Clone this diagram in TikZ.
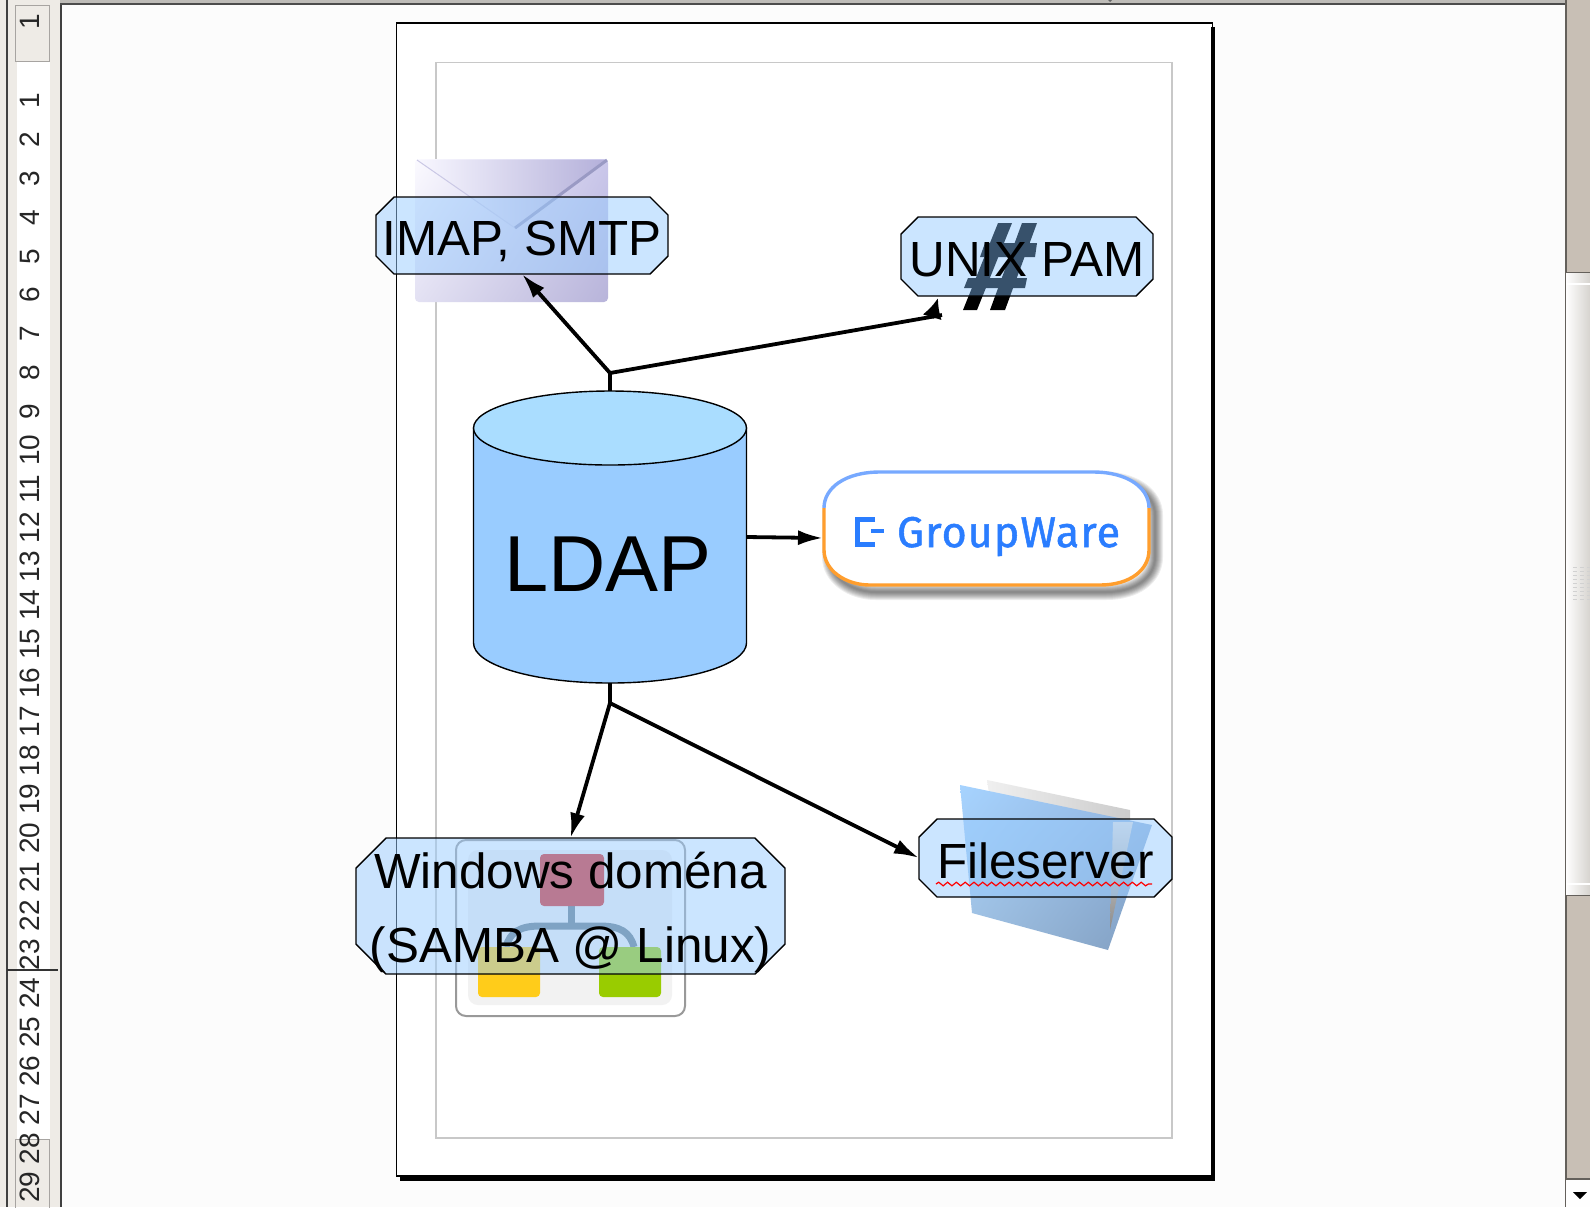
\documentclass[tikz,border=0pt]{standalone}
\usepackage{fontspec}
\setmainfont{Liberation Sans}
\newfontfamily\gwfont[FakeBold=1.2,LetterSpace=2.5]{Fira Sans}
\usetikzlibrary{arrows.meta,decorations.pathmorphing,calc,shadings}
\definecolor{panelgray}{HTML}{EEEBE6}
\definecolor{troughgray}{HTML}{C8BFB5}
\definecolor{boxblue}{HTML}{99CCFF}
\definecolor{boxbluedeep}{HTML}{85C2FF}
\definecolor{toplight}{HTML}{AADDFF}
\definecolor{gwblue}{HTML}{2A7DFF}
\definecolor{gwtop}{HTML}{77A9FF}
\definecolor{gworange}{HTML}{FF9E2E}
\definecolor{marginline}{HTML}{C8C8C8}
\definecolor{envul}{HTML}{FBFAFF}
\definecolor{envur}{HTML}{C9C6EA}
\definecolor{envlr}{HTML}{B8B4DA}
\definecolor{envll}{HTML}{E3E1F3}
\definecolor{flapl}{HTML}{F8F7FF}
\definecolor{flapr}{HTML}{B4B0DA}
\definecolor{flapedge}{HTML}{9A9AC4}
\definecolor{folul}{HTML}{A6D3FF}
\definecolor{folur}{HTML}{94B8E4}
\definecolor{follr}{HTML}{7F9DC0}
\definecolor{folll}{HTML}{A0C0E0}
\definecolor{netpink}{HTML}{D92827}
\definecolor{netyellow}{HTML}{FFCC1A}
\definecolor{netgreen}{HTML}{99CC00}
\definecolor{netline}{HTML}{667A8A}
\tikzset{
  x=0.5pt,y=-0.5pt,
  boxshape/.style={draw=black,line width=.7pt,fill=boxblue,fill opacity=.5,draw opacity=1},
  boxshapedeep/.style={draw=black,line width=.7pt,fill=boxbluedeep,fill opacity=.42,draw opacity=1},
  labeltext/.style={inner sep=0pt,align=center,font=\fontsize{24.7}{37}\selectfont},
  link/.style={draw=black,line width=1.9pt,line join=round},
  headed/.style={link,-{Latex[length=12.5pt,width=7.5pt]}},
  rulernum/.style={rotate=90,font=\fontsize{14}{14}\selectfont,text=black!85,inner sep=0pt},
  ghost/.style={inner sep=0pt,outer sep=0pt,draw=none,fill=none}
}
% name, cx, cy, width(pt), height(pt), chamfer(px), box style, last text baseline y, text
\newcommand{\labelbox}[9]{%
  \node[ghost,minimum width=#4pt,minimum height=#5pt] (#1) at (#2,#3) {};
  \path[#7] ($(#1.north west)+(#6,0)$) -- ($(#1.north east)+(-#6,0)$) -- ($(#1.north east)+(0,#6)$)
    -- ($(#1.south east)+(0,-#6)$) -- ($(#1.south east)+(-#6,0)$) -- ($(#1.south west)+(#6,0)$)
    -- ($(#1.south west)+(0,-#6)$) -- ($(#1.north west)+(0,#6)$) -- cycle;
  \node[labeltext,anchor=base] (#1text) at (#2,#8) {#9};
}
\newcommand{\gwshape}{(824,508) .. controls (824,488) and (845,472) .. (880,472) -- (1093,472) .. controls (1128,472) and (1149,488) .. (1149,508) -- (1149,550) .. controls (1149,570) and (1130,585) .. (1100,585) -- (870,585) .. controls (845,585) and (824,570) .. (824,550) -- cycle}
\begin{document}
\begin{tikzpicture}
\clip (0,0) rectangle (1590,1207);
\fill[white!99!black] (0,0) rectangle (1590,1207);
% --- window chrome: left ruler
\fill[panelgray] (0,0) rectangle (60,1207);
\fill[white] (17,62) rectangle (50,1139);
\draw[panelgray!70!black,line width=.5pt,fill=panelgray] (15,5) rectangle (49,61);
\draw[panelgray!70!black,line width=.5pt] (15,1139) rectangle (49,1210);
\draw[black!75,line width=1pt] (7,0) -- (7,1207);
\draw[black!75,line width=1pt] (60.5,3) -- (60.5,1207);
\fill[panelgray!80!black] (60,0) rectangle (1565,3);
\draw[black!70,line width=1pt] (60,4) -- (1565,4);
\fill[black!60] (1108,0) -- (1112,0) -- (1110,2) -- cycle;
\draw[black!80,line width=.6pt] (7,970) -- (58,970);
\node[rulernum] (r0) at (30,22) {1};
\foreach \n in {1,...,29}{
  \node[rulernum] (r\n) at (30,{101+38.8*(\n-1)}) {\n};
}
% --- scrollbar
\fill[troughgray] (1566,0) rectangle (1590,1207);
\draw[black!50!troughgray,line width=1pt] (1565.5,0) -- (1565.5,1207);
\shade[left color=white!95!panelgray,right color=panelgray!90!black] (1566,272) rectangle (1590,895);
\draw[white,line width=1pt] (1566,284) -- (1590,284) (1566,884) -- (1590,884);
\draw[black!50!troughgray,line width=.7pt] (1566,272.5) -- (1590,272.5) (1566,895.5) -- (1590,895.5);
\foreach \gx in {1573,1580,1587}{
  \foreach \gy in {567,571,...,599}{
    \draw[black!18,line width=.5pt] (\gx,\gy) -- ++(4,0);
  }
}
\fill[white!95!panelgray] (1566,1179) rectangle (1590,1207);
\draw[black!50!troughgray,line width=.7pt] (1566,1179) -- (1590,1179);
\fill[black] (1573,1192) -- (1587,1192) -- (1580,1199) -- cycle;
% --- page
\fill[white] (396.5,23) rectangle (1212.5,1176);
\fill[black] (1211,27) rectangle (1215,1181);
\fill[black] (400,1175) rectangle (1215,1181);
\draw[black,line width=.9pt] (396.5,23) rectangle (1212.5,1176);
\draw[marginline,line width=.8pt] (436,62.5) rectangle (1172,1138);
% --- envelope picture
\shade[upper left=envul,upper right=envur,lower right=envlr,lower left=envll,rounded corners=2pt] (415,159) rectangle (608,302);
\shade[left color=flapl,right color=flapr] (417,160) -- (607,160) -- (515,228) -- cycle;
\draw[flapr!70!white,line width=.5pt] (417,160) -- (515,228);
\draw[flapedge,line width=1.5pt] (607,160) -- (515,228);
% --- hash picture
\fill[black] (963,310) -- (977,310) -- (1012,223) -- (998,223) -- cycle;
\fill[black] (990,310) -- (1005,310) -- (1037,223) -- (1022,223) -- cycle;
\fill[black] (985,243) -- (1037,243) -- (1035,257) -- (980,257) -- cycle;
\fill[black] (968,278) -- (1027,278) -- (1025,288) -- (964,288) -- cycle;
% --- folder picture
\shade[left color=black!6,right color=black!20] (987,780) -- (1130,810) -- (1130,830) -- (990,800) -- cycle;
\shade[upper left=folul,upper right=folur,lower right=follr,lower left=folll] (960,785) -- (1152,825) -- (1108,950) -- (972,913) -- cycle;
\shade[top color=black!12,bottom color=black!45] (1113,822) -- (1133,822) -- (1110,930) -- cycle;
% --- network picture
\draw[black!40,line width=1pt,fill=white,rounded corners=5pt] (456,840) rectangle (685,1016);
\fill[black!5,rounded corners=5pt] (468,850) rectangle (672,1005);
\draw[netline,line width=3.5pt] (571,905) -- (571,926);
\draw[netline,line width=3.5pt] (506,947) .. controls (510,932) and (520,926) .. (540,926) -- (600,926) .. controls (620,926) and (630,932) .. (634,947);
\fill[netpink,rounded corners=2pt] (540,854) rectangle (604,906);
\fill[netyellow,rounded corners=2pt] (478,947) rectangle (540,997);
\fill[netgreen,rounded corners=2pt] (599,947) rectangle (661,997);
% --- LDAP cylinder
\draw[black,line width=.7pt,fill=boxblue] (473.5,428) -- (473.5,643) .. controls (473.5,665) and (534,683) .. (610,683) .. controls (686,683) and (746.5,665) .. (746.5,643) -- (746.5,428) -- cycle;
\draw[black,line width=.7pt,fill=toplight] (610,428) ellipse [x radius=136.5,y radius=37];
\node[ghost,minimum width=136.5pt,minimum height=146pt] (ldap) at (610,537) {};
\node[ghost,anchor=base,font=\fontsize{39.7}{40}\selectfont] (ldaplabel) at (608,591) {LDAP};
% --- GroupWare
\foreach \w in {8,7,6,5,4,3,2,1}{
  \begin{scope}[xshift=3pt,yshift=-3.5pt]
    \draw[black,opacity=.07,line width=\w pt,line join=round] \gwshape;
  \end{scope}
}
\fill[white] \gwshape;
\draw[gwtop,line width=1.7pt] (824,508) .. controls (824,488) and (845,472) .. (880,472) -- (1093,472) .. controls (1128,472) and (1149,488) .. (1149,508);
\draw[gworange,line width=1.7pt] (1149,508) -- (1149,550) .. controls (1149,570) and (1130,585) .. (1100,585) -- (870,585) .. controls (845,585) and (824,570) .. (824,550) -- (824,508);
\draw[gwblue,line width=2.5pt] (875,519.5) -- (857.5,519.5) -- (857.5,544.5) -- (875,544.5);
\draw[gwblue,line width=2.3pt] (871,531) -- (884,531);
\node[ghost,minimum width=162.5pt,minimum height=56.5pt] (gw) at (986.5,528.5) {};
\node[ghost,anchor=base west,text=gwblue,font=\gwfont\fontsize{21.5}{21.5}\selectfont] (gwlabel) at (897,547) {GroupWare};
% --- label boxes
\labelbox{imap}{522}{235.5}{146}{38.5}{18}{boxshape}{255}{IMAP, SMTP}
\labelbox{unix}{1027}{256.5}{126}{39.5}{17}{boxshapedeep}{276}{UNIX PAM}
\labelbox{win}{570.5}{906}{214.5}{68}{30}{boxshape}{962}{Windows doména\\(SAMBA @ Linux)}
\labelbox{file}{1045.5}{858}{126.5}{39}{18}{boxshape}{878}{Fileserver}
\coordinate (wavea) at (936,884);
\coordinate (waveb) at (1152,884);
\draw[red,line width=.6pt,decorate,decoration={snake,amplitude=.9pt,segment length=4.4pt}] (wavea) -- (waveb);
% --- connectors
\coordinate (jt) at (610,373);
\coordinate (jb) at (610,703);
\coordinate (ue) at (942,315);
\coordinate (ubase) at (932,318);
\coordinate (utip) at (938,298);
\coordinate (gwin) at (823,538);
\draw[link] (ldap.north) -- (jt);
\draw[headed] (jt) -- (imap.south);
\draw[link] (jt) -- (ue);
\draw[link,-{Latex[length=10pt,width=10pt]}] (ubase) -- (utip);
\draw[headed] (ldap.east) -- (gwin);
\draw[link] (ldap.south) -- (jb);
\draw[headed] (jb) -- (win.north);
\draw[headed] (jb) -- (file.west);
\end{tikzpicture}
\end{document}
